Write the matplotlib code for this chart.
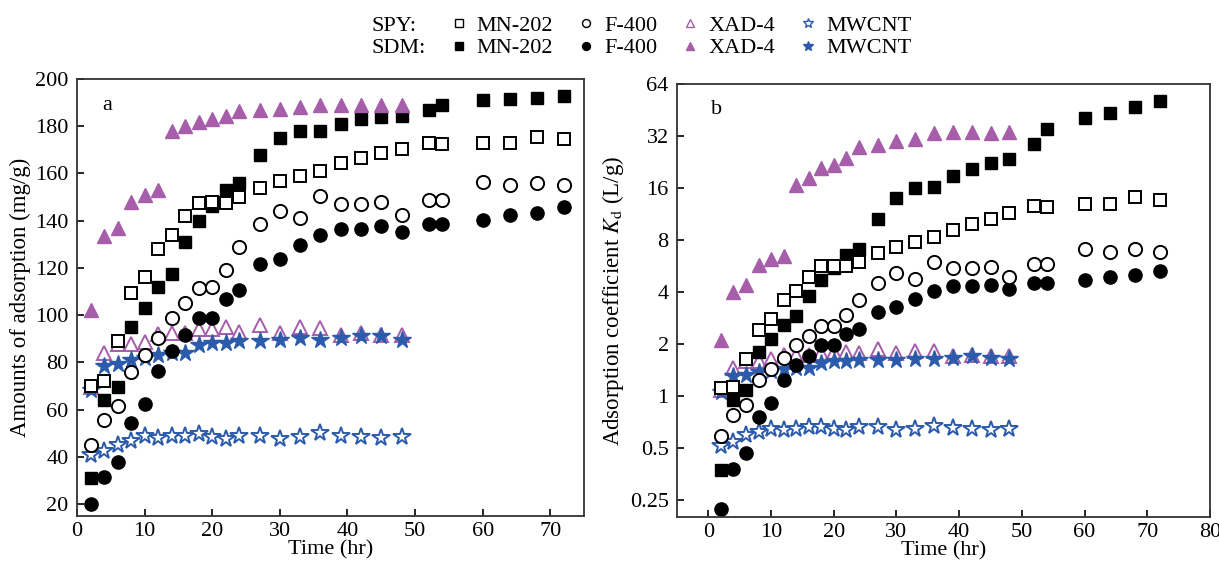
import matplotlib
matplotlib.use("Agg")
import matplotlib.pyplot as plt
from matplotlib.lines import Line2D
from matplotlib.ticker import FixedLocator, FixedFormatter, NullLocator

plt.rcParams['font.family'] = ['Liberation Serif', 'DejaVu Serif']
plt.rcParams['mathtext.fontset'] = 'stix'

# time points (hr)
t_long = [2, 4, 6, 8, 10, 12, 14, 16, 18, 20, 22, 24, 27, 30, 33, 36, 39, 42, 45, 48,
          52, 54, 60, 64, 68, 72]
t_short = t_long[:20]

# panel a: amounts of adsorption (mg/g)
spy_mn202_q = [70, 72, 89, 109.5, 116, 128, 134, 142, 147.3, 148, 147.5, 150, 154, 157, 159, 161,
               164.5, 166.5, 168.5, 170.5, 173, 172.5, 173, 173, 175.5, 174.5]
sdm_mn202_q = [31, 64, 69.5, 95, 103, 112, 117.5, 131, 140, 146.3, 153, 156, 168, 175, 178, 178,
               181, 183, 184, 184.5, 187, 189, 191, 191.5, 192, 192.8]
spy_f400_q = [45, 55.5, 61.5, 76, 83.3, 90.5, 99, 105, 111.6, 112, 119, 128.7, 138.8, 144, 141,
              150.4, 147, 147, 147.8, 142.4, 148.7, 148.7, 156.2, 155, 156, 155]
sdm_f400_q = [20, 31.5, 38, 54.5, 62.3, 76.3, 85, 91.8, 99, 99, 106.8, 110.6, 121.5, 124, 129.7,
              134, 136.7, 136.7, 137.7, 135.3, 138.8, 138.8, 140.3, 142.4, 143.4, 145.6]
spy_xad4_q = [69.6, 84, 88, 88, 88.7, 92, 92.5, 92.5, 94, 94.1, 95, 93, 96, 92.5, 95.2, 94.4,
              91.8, 92.5, 91.8, 91.8]
sdm_xad4_q = [102, 133.5, 137, 148, 151, 153, 178, 180, 182, 183, 184.5, 186.5, 187, 187.5, 188,
              189, 189, 189, 189, 189]
spy_mwcnt_q = [40.7, 42.5, 45.2, 46.7, 48.7, 48, 48.7, 49, 49.6, 48.3, 47.7, 48.8, 48.8, 47.7,
               48.6, 50, 49, 48.6, 48, 48.3]
sdm_mwcnt_q = [68.5, 78.5, 79.5, 81, 82, 83, 84, 84, 87.3, 88.4, 88.4, 89, 89, 89.7, 90.4, 89.7,
               90.4, 91, 91, 89.7]

# panel b: adsorption coefficient Kd (L/g)
spy_mn202_k = [1.11, 1.13, 1.63, 2.43, 2.8, 3.58, 4.08, 4.92, 5.63, 5.7, 5.63, 6.0, 6.77, 7.33,
               7.83, 8.37, 9.2, 9.85, 10.6, 11.5, 12.6, 12.4, 12.9, 12.9, 14.2, 13.6]
sdm_mn202_k = [0.372, 0.95, 1.09, 1.81, 2.13, 2.57, 2.9, 3.82, 4.71, 5.5, 6.57, 7.08, 10.6, 14,
               16.1, 16.2, 18.7, 20.7, 22.3, 23.4, 28.9, 35.2, 40.8, 43.3, 47, 51.3]
spy_f400_k = [0.586, 0.777, 0.891, 1.24, 1.44, 1.67, 1.97, 2.22, 2.54, 2.54, 2.96, 3.62, 4.5,
              5.15, 4.78, 6.0, 5.5, 5.5, 5.6, 4.92, 5.83, 5.83, 7.11, 6.85, 7.11, 6.85]
sdm_f400_k = [0.222, 0.377, 0.47, 0.754, 0.908, 1.24, 1.51, 1.7, 1.97, 1.97, 2.3, 2.45, 3.07,
              3.28, 3.67, 4.04, 4.32, 4.32, 4.41, 4.18, 4.5, 4.5, 4.71, 4.92, 5.02, 5.33]
spy_xad4_k = [1.09, 1.46, 1.6, 1.6, 1.63, 1.72, 1.72, 1.74, 1.78, 1.8, 1.81, 1.77, 1.87, 1.77,
              1.83, 1.82, 1.7, 1.74, 1.7, 1.7]
sdm_xad4_k = [2.11, 4.0, 4.38, 5.75, 6.23, 6.5, 16.6, 18.4, 21, 21.8, 23.8, 27.8, 28.2, 30.1,
              30.8, 33.2, 33.6, 33.6, 33.3, 33.6]
spy_mwcnt_k = [0.518, 0.545, 0.596, 0.618, 0.646, 0.635, 0.646, 0.66, 0.665, 0.646, 0.635, 0.66,
               0.66, 0.635, 0.646, 0.67, 0.655, 0.646, 0.64, 0.646]
sdm_mwcnt_k = [1.06, 1.31, 1.32, 1.38, 1.4, 1.43, 1.45, 1.45, 1.56, 1.6, 1.6, 1.61, 1.62, 1.61,
               1.65, 1.63, 1.67, 1.7, 1.67, 1.63]

purple = '#A65EAB'
blue = '#2B5BAA'

# (marker, filled, color, size)
styles = {
    'spy_mn202': ('s', False, 'black', 8.5),
    'sdm_mn202': ('s', True, 'black', 8.5),
    'spy_f400': ('o', False, 'black', 9.5),
    'sdm_f400': ('o', True, 'black', 9.5),
    'spy_xad4': ('^', False, purple, 10.5),
    'sdm_xad4': ('^', True, purple, 10.5),
    'spy_mwcnt': ('*', False, blue, 13),
    'sdm_mwcnt': ('*', True, blue, 13),
}


def draw(ax, key, x, y):
    m, filled, c, ms = styles[key]
    ax.plot(x, y, linestyle='none', marker=m, ms=ms, mec=c,
            mfc=c if filled else 'white', mew=1.4 if not filled else 1.0)


fig = plt.figure(figsize=(12.19, 5.65), dpi=100)
axa = fig.add_axes([0.0632, 0.0867, 0.4159, 0.7735])
axb = fig.add_axes([0.5554, 0.085, 0.4372, 0.7664])

# panel a
draw(axa, 'spy_xad4', t_short, spy_xad4_q)
draw(axa, 'sdm_mwcnt', t_short, sdm_mwcnt_q)
draw(axa, 'spy_mwcnt', t_short, spy_mwcnt_q)
draw(axa, 'sdm_f400', t_long, sdm_f400_q)
draw(axa, 'spy_f400', t_long, spy_f400_q)
draw(axa, 'sdm_mn202', t_long, sdm_mn202_q)
draw(axa, 'spy_mn202', t_long, spy_mn202_q)
draw(axa, 'sdm_xad4', t_short, sdm_xad4_q)

# panel b
draw(axb, 'spy_xad4', t_short, spy_xad4_k)
draw(axb, 'sdm_mwcnt', t_short, sdm_mwcnt_k)
draw(axb, 'spy_mwcnt', t_short, spy_mwcnt_k)
draw(axb, 'sdm_f400', t_long, sdm_f400_k)
draw(axb, 'spy_f400', t_long, spy_f400_k)
draw(axb, 'sdm_mn202', t_long, sdm_mn202_k)
draw(axb, 'spy_mn202', t_long, spy_mn202_k)
draw(axb, 'sdm_xad4', t_short, sdm_xad4_k)

axa.set_xlim(0, 75)
axa.set_ylim(15, 200)
axa.set_xticks(range(0, 80, 10))
axa.set_yticks(range(20, 201, 20))
axa.set_xlabel('Time (hr)', fontsize=16, labelpad=0)
axa.set_ylabel('Amounts of adsorption (mg/g)', fontsize=16.5, labelpad=3)
axa.text(0.06, 0.94, 'a', transform=axa.transAxes, fontsize=16, ha='center', va='center')

axb.set_yscale('log', base=2)
axb.set_xlim(-5, 80)
axb.set_ylim(0.2, 64)
axb.set_xticks(range(0, 90, 10))
kd_ticks = [0.25, 0.5, 1, 2, 4, 8, 16, 32, 64]
axb.yaxis.set_major_locator(FixedLocator(kd_ticks))
axb.yaxis.set_major_formatter(FixedFormatter(['0.25', '0.5', '1', '2', '4', '8', '16', '32', '64']))
axb.yaxis.set_minor_locator(NullLocator())
axb.set_xlabel('Time (hr)', fontsize=16, labelpad=0)
axb.set_ylabel(r'Adsorption coefficient $K_{\mathrm{d}}$ (L/g)', fontsize=16.5, labelpad=3)
axb.text(0.075, 0.94, 'b', transform=axb.transAxes, fontsize=16, ha='center', va='center')

for ax in (axa, axb):
    ax.tick_params(direction='in', labelsize=16, length=5, width=1.2, pad=4,
                   top=False, right=False)
    ax.tick_params(axis='y', pad=6)
    for s in ax.spines.values():
        s.set_color('#333333')
        s.set_linewidth(1.3)

# legend: two rows, SPY open markers, SDM filled
def lh(key):
    m, filled, c, ms = styles[key]
    return Line2D([], [], linestyle='none', marker=m, ms=ms * 0.6, mec=c,
                  mfc=c if filled else 'white', mew=1.0)

blank = Line2D([], [], linestyle='none', marker='none')
handles = [blank, blank,
           lh('spy_mn202'), lh('sdm_mn202'),
           lh('spy_f400'), lh('sdm_f400'),
           lh('spy_xad4'), lh('sdm_xad4'),
           lh('spy_mwcnt'), lh('sdm_mwcnt')]
labels = ['SPY:', 'SDM:', 'MN-202', 'MN-202', 'F-400', 'F-400', 'XAD-4', 'XAD-4',
          'MWCNT', 'MWCNT']
fig.legend(handles, labels, ncol=5, loc='center', bbox_to_anchor=(0.516, 0.935),
           frameon=False, fontsize=16, handlelength=0.6, handletextpad=0.5,
           columnspacing=1.2, labelspacing=0.1, borderpad=0)

fig.savefig('out.png', dpi=100)
